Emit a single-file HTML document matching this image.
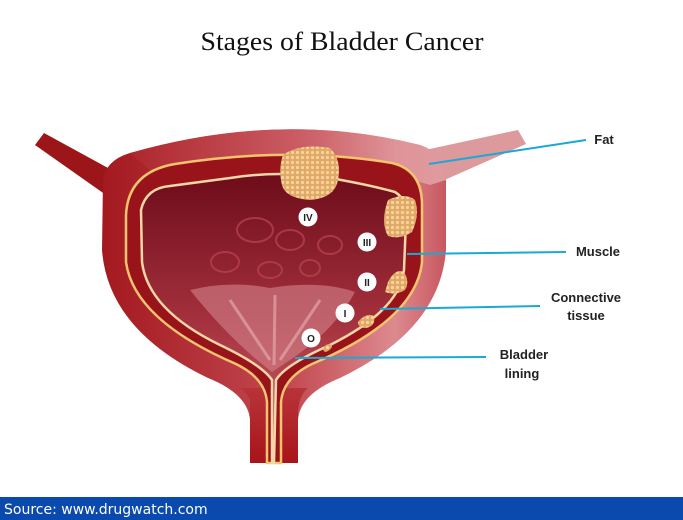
<!DOCTYPE html>
<html><head><meta charset="utf-8"><style>
html,body{margin:0;padding:0;background:#fff;width:683px;height:520px;overflow:hidden}
svg{display:block}
</style></head><body>
<svg width="683" height="520" viewBox="0 0 683 520" xmlns="http://www.w3.org/2000/svg">
<defs>
<linearGradient id="outer" x1="0" y1="0" x2="1" y2="0">
<stop offset="0" stop-color="#a3191f"/><stop offset="0.55" stop-color="#c44a52"/><stop offset="0.85" stop-color="#dc8a8f"/><stop offset="1" stop-color="#c8585f"/>
</linearGradient>
<linearGradient id="top" x1="0" y1="0" x2="1" y2="0">
<stop offset="0" stop-color="#b02a30"/><stop offset="0.6" stop-color="#d06a70"/><stop offset="1" stop-color="#eab7b9"/>
</linearGradient>
<linearGradient id="cav" x1="0" y1="0" x2="0" y2="1">
<stop offset="0" stop-color="#6e0c1a"/><stop offset="0.5" stop-color="#a3303c"/><stop offset="1" stop-color="#cf6b72"/>
</linearGradient>
<linearGradient id="stem" x1="0" y1="0" x2="0" y2="1">
<stop offset="0" stop-color="#b8343a"/><stop offset="1" stop-color="#a8141a"/>
</linearGradient>
<pattern id="dots" width="5" height="5" patternUnits="userSpaceOnUse">
<rect width="5" height="5" fill="#e2a866"/><circle cx="2.5" cy="2.5" r="1.6" fill="#f6d49e"/>
</pattern>
</defs>
<text x="342" y="50" text-anchor="middle" font-family="Liberation Serif, serif" font-size="26" fill="#111" textLength="283" lengthAdjust="spacingAndGlyphs">Stages of Bladder Cancer</text>

<path d="M35,145 L44,133 L108,168 L106,195 Z" fill="#9b1519"/>
<path d="M425,150 L518,130 L526,144 L440,182 Z" fill="#dc9a9c"/>

<path d="M103,180 Q106,160 130,153 Q280,110 420,145 Q444,153 446,180 L446,250 Q440,330 340,378 Q300,394 298,420 L298,463 L250,463 L250,420 Q248,394 208,378 Q108,330 102,250 Z" fill="url(#outer)"/>
<path d="M130,153 Q280,110 420,145 Q444,153 446,180 L430,185 Q300,145 150,170 Z" fill="url(#top)" opacity="0.7"/>
<path d="M250,400 Q248,394 240,388 L308,388 Q300,394 298,410 L298,463 L250,463 Z" fill="url(#stem)"/>

<path d="M126,215 Q128,172 175,164 Q290,146 392,163 Q422,170 422,205 L422,262 Q416,320 312,364 Q283,378 281,402 L281,463 L267,463 L267,402 Q265,378 236,364 Q134,320 126,262 Z" fill="#98141a" stroke="#f5c46e" stroke-width="2.5"/>
<path d="M141,210 Q146,188 170,186 Q200,182 230,178 Q280,170 330,178 Q370,185 395,192 Q408,200 406,220 L404,270 Q400,310 330,345 Q285,365 276,380 L274,463 L272,463 L272,380 Q262,365 220,345 Q148,310 142,262 Z" fill="url(#cav)" stroke="#f3d6a8" stroke-width="2.5"/>
<g fill="none" stroke="#b5404c" stroke-width="2" opacity="0.8">
<ellipse cx="255" cy="230" rx="18" ry="12"/><ellipse cx="290" cy="240" rx="14" ry="10"/><ellipse cx="330" cy="245" rx="12" ry="9"/>
<ellipse cx="225" cy="262" rx="14" ry="10"/><ellipse cx="270" cy="270" rx="12" ry="8"/><ellipse cx="310" cy="268" rx="10" ry="8"/>
</g>
<path d="M190,290 Q230,280 270,288 Q320,280 355,292 Q335,330 290,360 L272,372 Q230,340 190,290 Z" fill="#d4838a" opacity="0.6"/>
<g stroke="#eab0b4" stroke-width="3" opacity="0.6"><path d="M230,300 L270,360"/><path d="M275,295 L274,365"/><path d="M320,300 L280,360"/></g>

<path d="M283,155 Q300,143 330,148 Q342,160 338,180 Q335,198 310,200 Q285,198 282,185 Q278,170 283,155 Z" fill="url(#dots)"/>
<path d="M388,200 Q405,192 415,200 Q420,215 412,232 Q400,240 388,236 Q380,222 388,200 Z" fill="url(#dots)"/>
<path d="M388,282 Q395,268 404,272 Q410,282 405,290 Q395,296 385,292 Z" fill="url(#dots)"/>
<path d="M358,322 Q366,312 374,316 Q376,326 366,328 Q358,328 358,322 Z" fill="url(#dots)"/>
<path d="M322,349 Q327,342 332,345 Q332,350 325,352 Z" fill="url(#dots)"/>

<g font-family="Liberation Sans, sans-serif" font-size="10" font-weight="bold" text-anchor="middle" fill="#222">
<circle cx="308" cy="217" r="9.5" fill="#fff"/><text x="308" y="221">IV</text>
<circle cx="367" cy="242" r="9.5" fill="#fff"/><text x="367" y="246">III</text>
<circle cx="367" cy="282" r="9.5" fill="#fff"/><text x="367" y="286">II</text>
<circle cx="345" cy="313" r="9.5" fill="#fff"/><text x="345" y="317">I</text>
<circle cx="311" cy="338" r="9.5" fill="#fff"/><text x="311" y="342">O</text>
</g>

<g stroke="#1ba9d4" stroke-width="2" fill="none">
<line x1="429" y1="164" x2="586" y2="140"/>
<line x1="407" y1="254" x2="566" y2="252"/>
<line x1="380" y1="309" x2="540" y2="306"/>
<line x1="295" y1="358" x2="486" y2="357"/>
</g>
<g font-family="Liberation Sans, sans-serif" font-size="13" font-weight="bold" fill="#222" text-anchor="middle">
<text x="604" y="144">Fat</text>
<text x="598" y="256">Muscle</text>
<text x="586" y="302">Connective</text>
<text x="586" y="320">tissue</text>
<text x="524" y="359">Bladder</text>
<text x="522" y="378">lining</text>
</g>

<rect x="0" y="497" width="683" height="23" fill="#0a49ad"/>
<text x="4" y="514" font-family="DejaVu Sans, Liberation Sans, sans-serif" font-size="14" fill="#fff">Source: www.drugwatch.com</text>
</svg>
</body></html>
